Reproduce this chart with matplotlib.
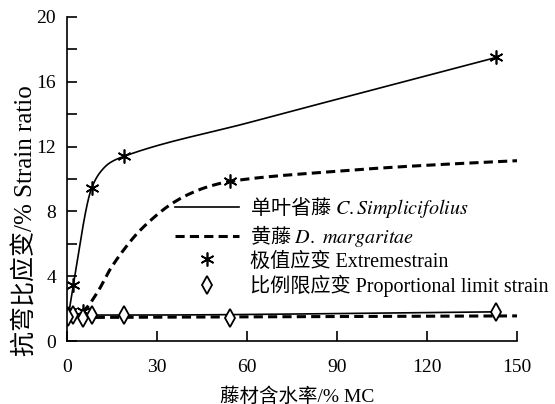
import numpy as np
import matplotlib
matplotlib.use('Agg')
import matplotlib.pyplot as plt
from matplotlib.lines import Line2D

plt.rcParams['font.family'] = ['Liberation Serif', 'Noto Sans CJK SC']
plt.rcParams['mathtext.fontset'] = 'stix'

# C. Simplicifolius (solid)
mc_cs = [0.4, 2.1, 8.2, 19.0, 143.0]
ext_cs = [1.5, 3.46, 9.43, 11.4, 17.5]
prop_cs = [1.55, 1.6, 1.6, 1.6, 1.8]

# D. margaritae (dashed)
mc_dm = [0.4, 5.3, 54.3]
ext_dm = [1.5, 1.85, 9.85]
prop_dm = [1.5, 1.45, 1.4]

# drawn curves
curve_cs_x = [0.4, 2.1, 8.2, 11.0, 14.3, 19.0, 61.0, 143.0]
curve_cs_y = [1.5, 3.46, 9.43, 10.4, 11.0, 11.4, 13.5, 17.5]
fit_dm_x = [0.4, 5.3, 9.9, 14.3, 18.8, 23.2, 28.8, 34.3, 39.9, 46.6, 54.3, 87.7, 103.2, 121.0, 150.0]
fit_dm_y = [1.5, 1.85, 2.93, 4.4, 5.6, 6.6, 7.6, 8.4, 9.0, 9.5, 9.85, 10.45, 10.66, 10.86, 11.13]
fit_dm_px = [0.0, 150.0]
fit_dm_py = [1.45, 1.55]

labels = ['单叶省藤 $\\mathit{C.Simplicifolius}$',
          '黄藤 $\\mathit{D.\\ margaritae}$',
          '极值应变 Extremestrain',
          '比例限应变 Proportional limit strain']


def smooth(xs, ys, n=40):
    # monotone cubic (Fritsch-Carlson) through the points
    x = np.asarray(xs, float)
    y = np.asarray(ys, float)
    h = np.diff(x)
    d = np.diff(y) / h
    m = np.zeros_like(x)
    m[0], m[-1] = d[0], d[-1]
    for i in range(1, len(x) - 1):
        if d[i - 1] * d[i] > 0:
            w1 = 2 * h[i] + h[i - 1]
            w2 = h[i] + 2 * h[i - 1]
            m[i] = (w1 + w2) / (w1 / d[i - 1] + w2 / d[i])
    xo, yo = [x[0]], [y[0]]
    for i in range(len(x) - 1):
        t = np.linspace(0, 1, n)[1:]
        h00 = 2 * t**3 - 3 * t**2 + 1
        h10 = t**3 - 2 * t**2 + t
        h01 = -2 * t**3 + 3 * t**2
        h11 = t**3 - t**2
        xo.extend(x[i] + t * h[i])
        yo.extend(h00 * y[i] + h10 * h[i] * m[i] + h01 * y[i + 1] + h11 * h[i] * m[i + 1])
    return np.array(xo), np.array(yo)


fig = plt.figure(figsize=(5.55, 4.04), dpi=100)
ax = fig.add_axes([67/555, 63/404, 450/555, 324/404])

dash = (0, (3, 1.7))

x, y = smooth(curve_cs_x, curve_cs_y)
ax.plot(x, y, color='k', lw=1.2)
x, y = smooth(fit_dm_x, fit_dm_y)
ax.plot(x, y, color='k', lw=2.2, linestyle=dash)
x, y = smooth(mc_cs, prop_cs)
ax.plot(x, y, color='k', lw=1.2)
ax.plot(fit_dm_px, fit_dm_py, color='k', lw=2.2, linestyle=dash)

star = (6, 2, 0)
ax.plot(mc_cs, ext_cs, ls='none', marker=star, ms=10, mec='k', mew=1.2)
ax.plot(mc_dm, ext_dm, ls='none', marker=star, ms=10, mec='k', mew=1.2)
ax.plot(mc_cs, prop_cs, ls='none', marker='d', ms=9, mfc='white', mec='k', mew=1.3)
ax.plot(mc_dm, prop_dm, ls='none', marker='d', ms=9, mfc='white', mec='k', mew=1.3)

ax.set_xlim(0, 150)
ax.set_ylim(0, 20)
ax.set_xticks([0, 30, 60, 90, 120, 150])
ax.set_yticks([0, 4, 8, 12, 16, 20])
ax.set_yticks([2, 6, 10, 14, 18], minor=True)
ax.tick_params(which='both', direction='in', length=7, width=1.2, labelsize=14)
ax.tick_params(axis='x', pad=13)
ax.tick_params(axis='y', pad=8)
for s in ['top', 'right']:
    ax.spines[s].set_visible(False)
for s in ['left', 'bottom']:
    ax.spines[s].set_linewidth(1.2)

ax.set_xlabel('藤材含水率/% MC', fontsize=14)
ax.xaxis.set_label_coords(0.511, -0.142)
ax.set_ylabel('抗弯比应变/% Strain ratio', fontsize=18)
ax.yaxis.set_label_coords(-0.065, 0.37)

handles = [Line2D([], [], color='k', lw=1.2),
           Line2D([], [], color='k', lw=2.2, linestyle=dash),
           Line2D([], [], ls='none', marker=star, ms=10, mec='k', mew=1.2),
           Line2D([], [], ls='none', marker='d', ms=9, mfc='white', mec='k', mew=1.3)]
leg = ax.legend(handles, labels, loc='upper left', bbox_to_anchor=(0.24, 0.45),
                frameon=False, fontsize=14.5, borderpad=0, borderaxespad=0,
                handlelength=3.2, handletextpad=0.5, labelspacing=0.15)
# mathtext labels need a single font that has the CJK glyphs
for t in leg.get_texts()[:2]:
    t.set_fontfamily('Noto Sans CJK SC')

fig.savefig('out.png', dpi=100)
